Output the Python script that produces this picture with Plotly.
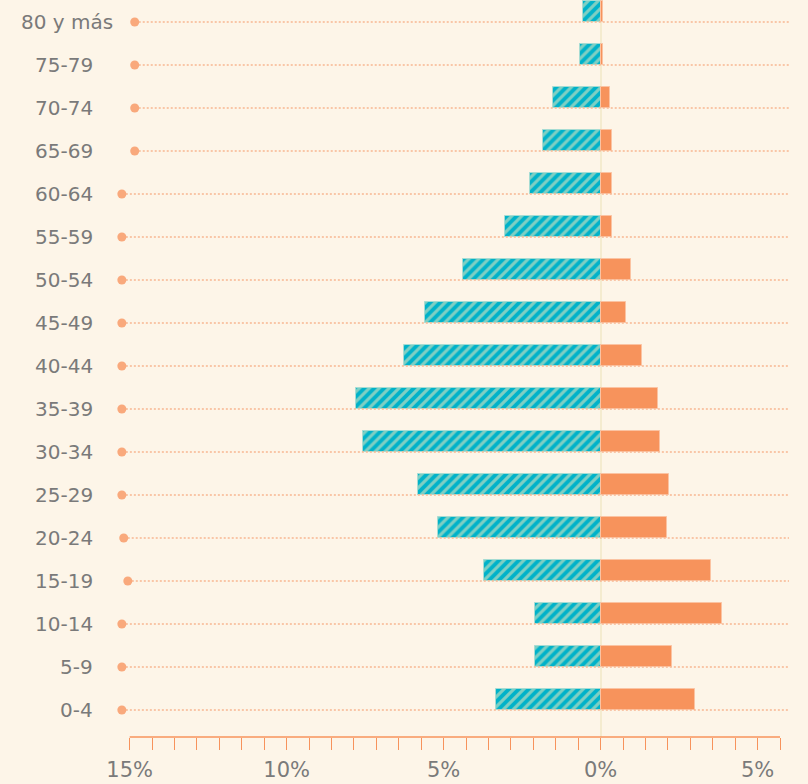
import plotly.graph_objects as go

age_groups = ["0-4", "5-9", "10-14", "15-19", "20-24", "25-29", "30-34", "35-39",
              "40-44", "45-49", "50-54", "55-59", "60-64", "65-69", "70-74", "75-79", "80 y más"]
mujeres = [3.34, 2.10, 2.10, 3.73, 5.19, 5.83, 7.58, 7.80,
           6.27, 5.60, 4.39, 3.06, 2.26, 1.85, 1.53, 0.67, 0.57]
hombres = [2.99, 2.26, 3.85, 3.50, 2.10, 2.17, 1.88, 1.82,
           1.31, 0.80, 0.96, 0.35, 0.35, 0.35, 0.29, 0.06, 0.06]
dot_start = [-15.25, -15.25, -15.25, -15.06, -15.19, -15.25, -15.25, -15.25,
             -15.25, -15.25, -15.25, -15.25, -15.25, -14.84, -14.84, -14.84, -14.84]
tick_vals = [-15, -10, -5, 0, 5]
tick_text = ["15%", "10%", "5%", "0%", "5%"]
minor_step = 5 / 7

BG = "#FDF5E8"
TEAL = "#00B2C9"
TEAL_LIGHT = "#7FCFC3"
ORANGE = "#F7935C"
ORANGE_DOT = "#F9A97C"
GRID = "#F8B791"
TEXT = "#7A7A7A"
FONT = "DejaVu Sans"

idx = list(range(len(age_groups)))
X_MIN, X_MAX = -15.5, 6.0
Y_MIN, Y_MAX = -0.628, 16.512

fig = go.Figure()

# dotted guide lines
gx, gy = [], []
for i, s in zip(idx, dot_start):
    gx += [s, X_MAX, None]
    gy += [i, i, None]
fig.add_trace(go.Scatter(x=gx, y=gy, mode="lines",
                         line=dict(color=GRID, width=1.5, dash="2px,2px"),
                         hoverinfo="skip", showlegend=False))
fig.add_trace(go.Scatter(x=dot_start, y=idx, mode="markers",
                         marker=dict(color=ORANGE_DOT, size=9),
                         hoverinfo="skip", showlegend=False, cliponaxis=False))

fig.add_trace(go.Bar(
    y=idx, x=[-v for v in mujeres], orientation="h", width=0.5, offset=0,
    marker=dict(color=TEAL, line=dict(color="#A6DCD3", width=1),
                pattern=dict(shape="/", fgcolor=TEAL_LIGHT, bgcolor=TEAL,
                             size=7, solidity=0.45, fillmode="replace")),
    showlegend=False, name="Mujeres"))
fig.add_trace(go.Bar(
    y=idx, x=hombres, orientation="h", width=0.5, offset=0,
    marker=dict(color=ORANGE, line=dict(color="#FBC3A2", width=1)),
    showlegend=False, name="Hombres"))

# tick end dots
n_lo = round(-15 / minor_step)
n_hi = int(X_MAX / minor_step)
tick_pos = [k * minor_step for k in range(n_lo, n_hi + 1)]
fig.add_trace(go.Scatter(x=tick_pos, y=[Y_MIN - 12 / 43] * len(tick_pos), mode="markers",
                         marker=dict(color=ORANGE, size=4), cliponaxis=False,
                         hoverinfo="skip", showlegend=False))

# axis line
fig.add_shape(type="line", xref="x", yref="paper", x0=-15, x1=tick_pos[-1], y0=0, y1=0,
              line=dict(color=ORANGE, width=1.5))

# y labels
for i, lab in zip(idx, age_groups):
    fig.add_annotation(x=0, xref="paper", y=i, yref="y", text=lab, showarrow=False,
                       xanchor="right", yanchor="middle",
                       xshift=-19 + (20 if len(lab) > 5 else 0),
                       font=dict(family=FONT, size=20, color=TEXT))

fig.update_layout(
    width=808, height=784,
    margin=dict(l=114, r=19, t=0, b=47, autoexpand=False),
    paper_bgcolor=BG, plot_bgcolor=BG,
    barmode="overlay", bargap=0,
    xaxis=dict(range=[X_MIN, X_MAX], tickvals=tick_vals, ticktext=tick_text,
               ticks="outside", ticklen=12, tickcolor=ORANGE, tickwidth=1,
               minor=dict(ticks="outside", ticklen=12, tickcolor=ORANGE, tickwidth=1,
                          tick0=0, dtick=minor_step, showgrid=False),
               showgrid=False, zeroline=True, zerolinecolor="#F4EBCF", zerolinewidth=2,
               showline=False, tickfont=dict(family=FONT, size=21, color=TEXT),
               ticklabelstandoff=2, automargin=False, fixedrange=True),
    yaxis=dict(range=[Y_MIN, Y_MAX], showticklabels=False, showgrid=False,
               zeroline=False, showline=False, automargin=False, fixedrange=True),
)

fig.write_html(
    "out.html",
    config={"displayModeBar": False},
    post_script=("document.body.style.margin='0';"
                 "document.body.style.background='" + BG + "';"
                 "document.documentElement.style.overflow='hidden';"),
)
